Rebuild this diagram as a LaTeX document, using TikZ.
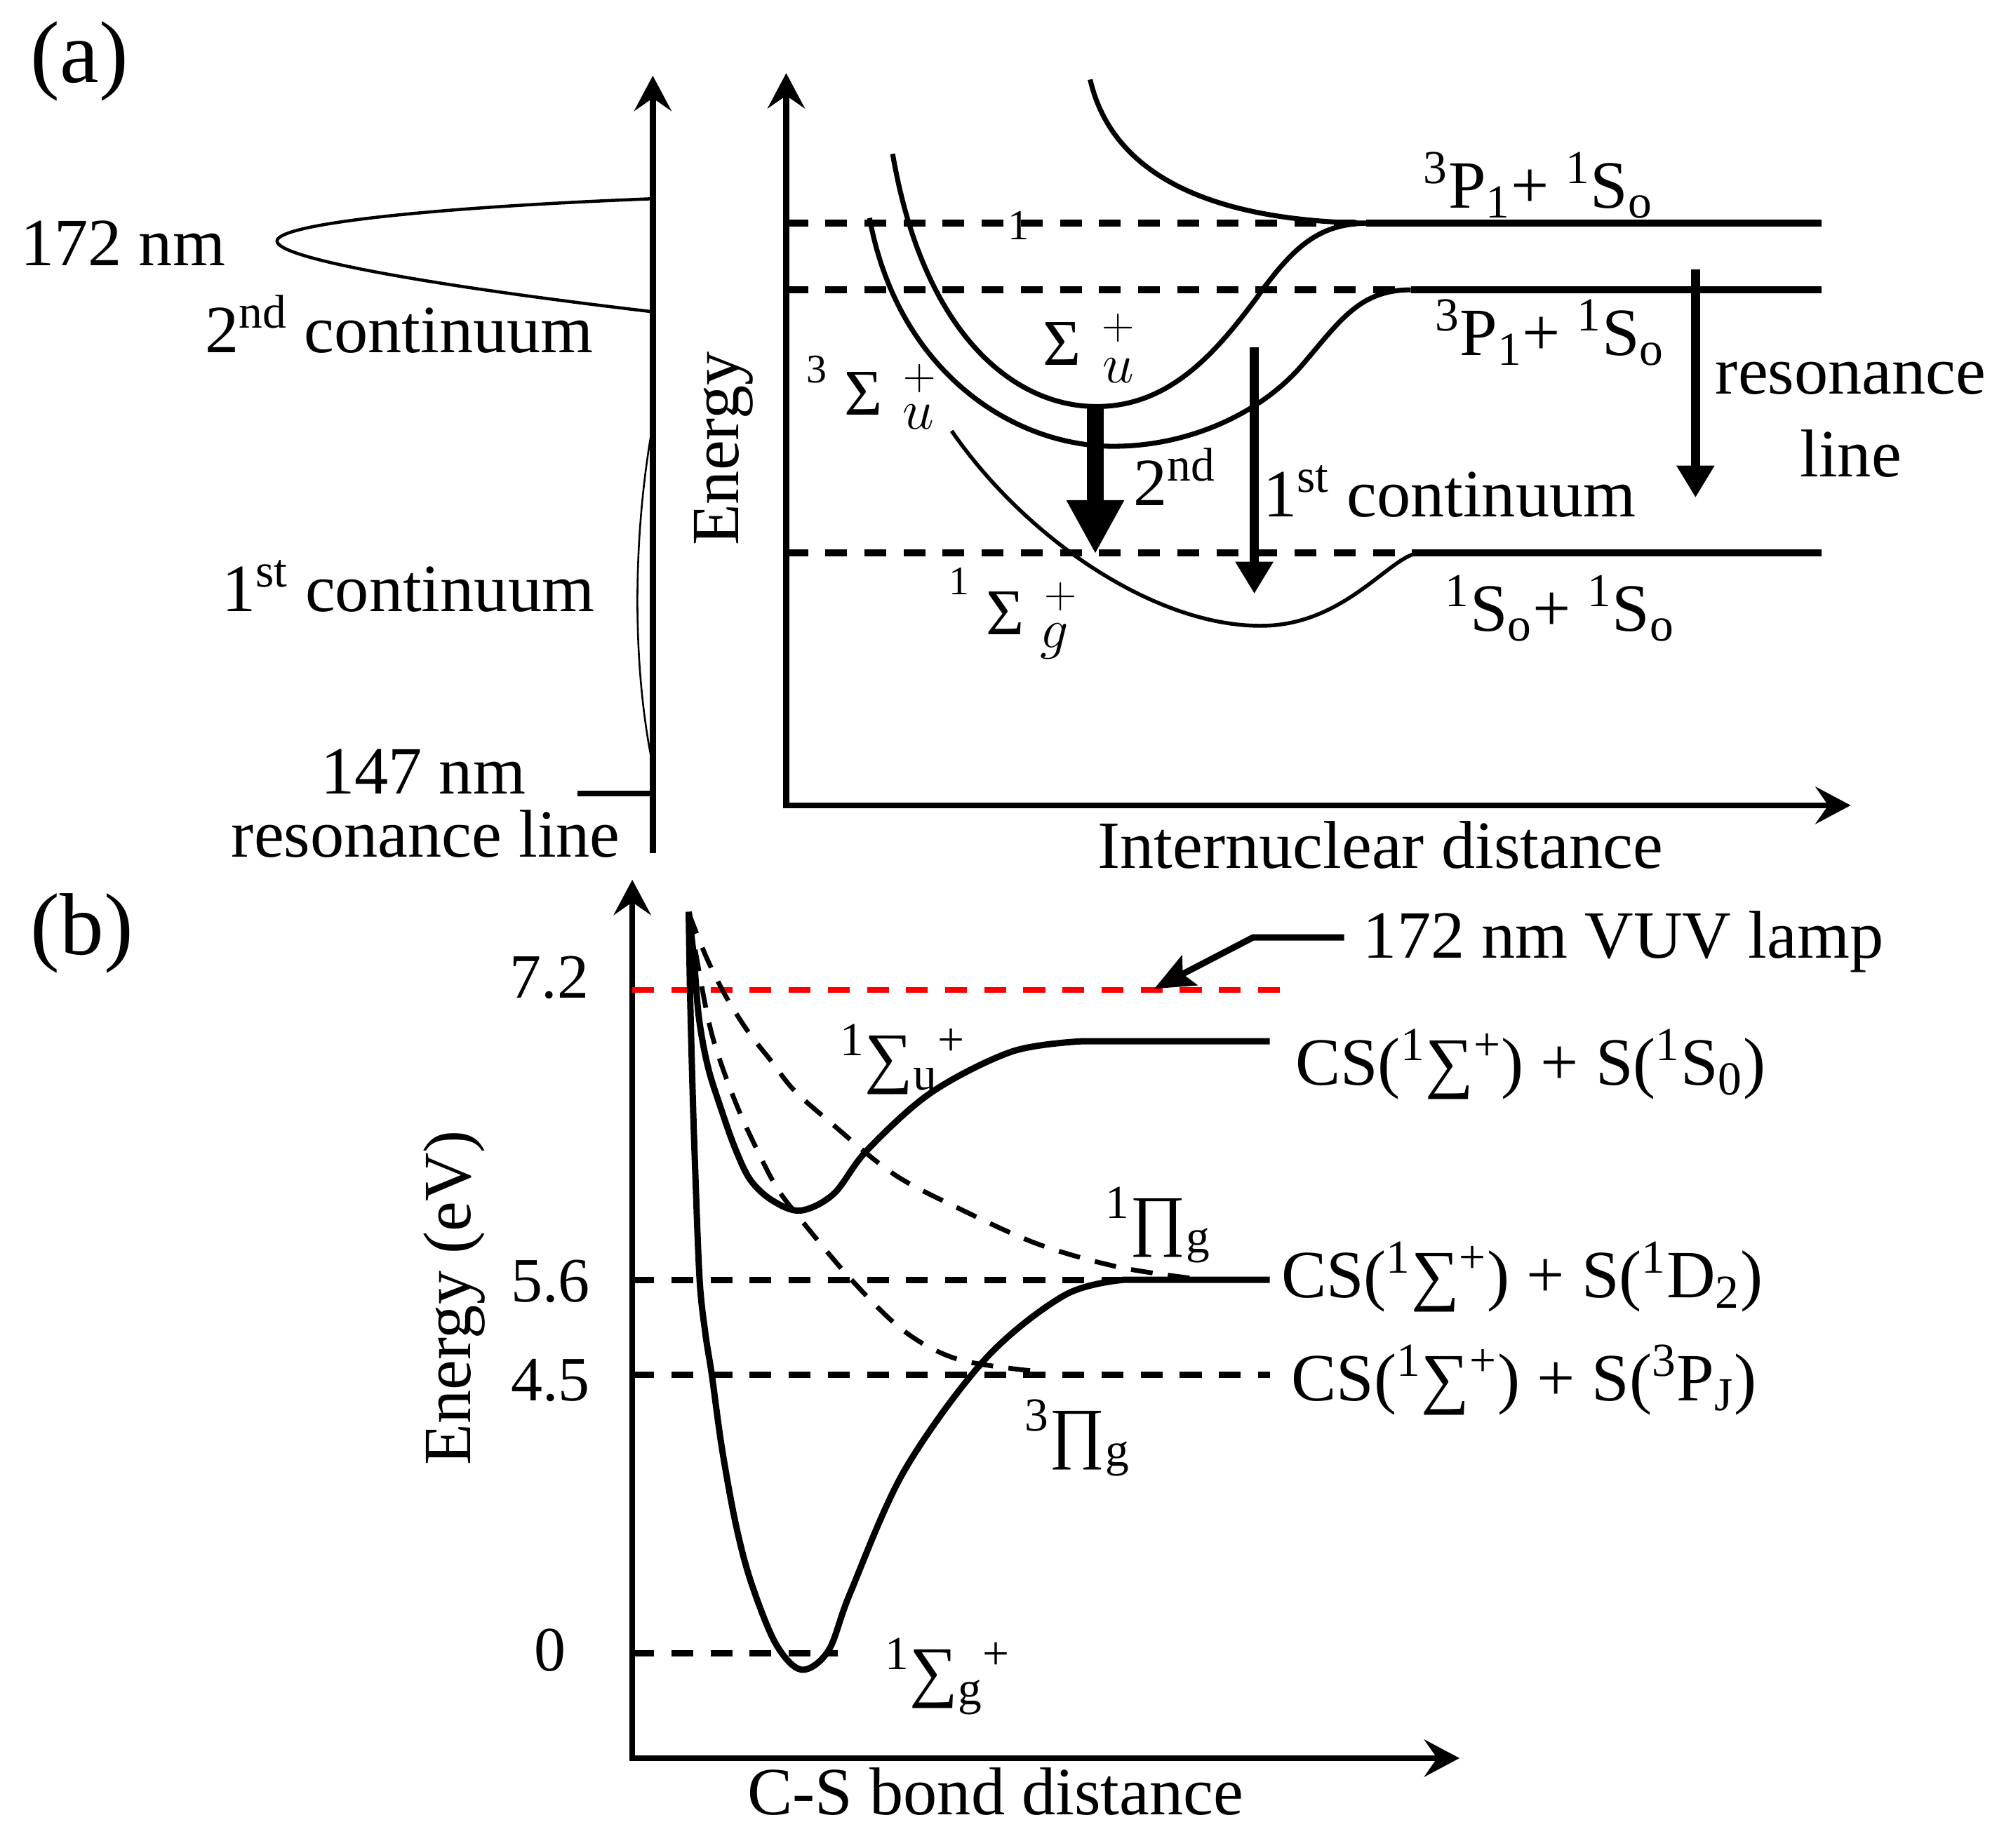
\RequirePackage{fix-cm}
\documentclass[tikz,border=0pt]{standalone}
\usepackage[no-math]{fontspec}
\setmainfont{Liberation Serif}
\usetikzlibrary{arrows.meta}
\begin{document}
\begin{tikzpicture}[x=0.02cm, y=-0.02cm,
  every node/.style={inner sep=0pt, outer sep=0pt, font=\fontsize{30}{36}\selectfont},
  lbl/.style={anchor=base west},
  bigsig/.style={font=\fontsize{29}{32}\selectfont},
  supnum/.style={font=\fontsize{18}{20}\selectfont},
  supplus/.style={font=\fontsize{20}{24}\selectfont},
  subit/.style={font=\fontsize{25}{28}\selectfont},
  tick/.style={anchor=base east, font=\fontsize{28}{32}\selectfont},
  panel/.style={font=\fontsize{39}{44}\selectfont},
  axisln/.style={line width=2.7pt},
  >={Stealth[length=0.55cm, width=0.58cm, inset=0.2cm]},
  crv/.style={line width=2.2pt},
  crvthin/.style={line width=1.7pt},
  dsha/.style={line width=3.1pt, dash pattern=on 0.34cm off 0.27cm},
  crvb/.style={line width=2.8pt},
  dshb/.style={line width=2.8pt, dash pattern=on 0.34cm off 0.27cm},
  dshcurve/.style={line width=2.1pt, dash pattern=on 0.34cm off 0.24cm},
  thinarrow/.style={line width=4.2pt, -{Triangle[length=0.5cm, width=0.56cm]}},
  thickarrow/.style={line width=7.2pt, -{Triangle[length=0.84cm, width=0.84cm]}},
]
\useasboundingbox (0,0) rectangle (1568,1441);

% ---------------- panel labels
\node[panel] (la) at (62,48) {(a)};
\node[panel] (lb) at (64,728) {(b)};

% ---------------- (a) left: spectrum
\coordinate (Lb) at (509,665);
\coordinate (Lt) at (509,59);
\draw[axisln, ->] (Lb) -- (Lt);
\draw[line width=1.4pt] (508,155) .. controls (330,162) and (216,175) .. (216,188)
      .. controls (216,201) and (330,222) .. (508,243);
\draw[line width=0.8pt] (509,331) .. controls (493,420) and (493,520) .. (509,597);
\coordinate (r147a) at (450,619);
\coordinate (r147b) at (509,619);
\draw[line width=2.5pt] (r147a) -- (r147b);

\node[lbl] (t172) at (16,207) {172 nm};
\node[lbl] (t2c) at (160,275) {2\textsuperscript{nd} continuum};
\node[lbl] (t1c) at (173,477) {1\textsuperscript{st} continuum};
\node[anchor=base] (t147) at (330,619) {147 nm};
\node[anchor=base] (tres) at (332,668) {resonance line};

% ---------------- (a) right: potential curves
\coordinate (Rt) at (613,57);
\coordinate (Ro) at (613,628);
\coordinate (Rr) at (1443,628);
\draw[axisln, <->] (Rt) -- (Ro) -- (Rr);

\draw[dsha] (613,174) -- (1065,174);
\draw[dsha] (613,226) -- (1100,226);
\draw[dsha] (613,431) -- (1108,431);
\draw[line width=3.1pt] (1065,174) -- (1420,174);
\draw[line width=3.1pt] (1100,226) -- (1420,226);
\draw[line width=3.1pt] (1108,431) -- (1420,431);

% repulsive upper curve
\draw[crv] (850,62) .. controls (868,140) and (950,172) .. (1065,174);
% Sigma_u upper (A)
\draw[crv] (696,120) .. controls (720,260) and (790,317) .. (855,317)
      .. controls (912,317) and (948,275) .. (980,232)
      .. controls (1010,190) and (1030,174) .. (1068,174);
% 3Sigma_u (B)
\draw[crv] (678,170) .. controls (700,290) and (790,348) .. (868,348)
      .. controls (930,348) and (985,320) .. (1015,285)
      .. controls (1045,250) and (1060,226) .. (1100,226);
% 1Sigma_g (C)
\draw[crvthin] (742,336) .. controls (800,420) and (900,488) .. (983,488)
      .. controls (1050,488) and (1085,431) .. (1108,431);

% transitions
\coordinate (a2s) at (854,317);
\coordinate (a2e) at (854,432);
\draw[thickarrow] (a2s) -- (a2e);
\coordinate (a1s) at (978,271);
\coordinate (a1e) at (978,463);
\draw[thinarrow] (a1s) -- (a1e);
\coordinate (ars) at (1322,210);
\coordinate (are) at (1322,388);
\draw[thinarrow] (ars) -- (are);

% labels (a) right
\node[lbl] (tPa) at (1110,162) {\textsuperscript{3}P\textsubscript{1}+ \textsuperscript{1}S\textsubscript{o}};
\node[lbl] (tPb) at (1119,277) {\textsuperscript{3}P\textsubscript{1}+ \textsuperscript{1}S\textsubscript{o}};
\node[lbl] (tSS) at (1127,492) {\textsuperscript{1}S\textsubscript{o}+ \textsuperscript{1}S\textsubscript{o}};
\node[anchor=base] (tRes1) at (1443,307) {resonance};
\node[anchor=base] (tRes2) at (1443,372) {line};
\node[lbl] (t2nd) at (884,394) {2\textsuperscript{nd}};
\node[lbl] (t1st) at (985,403) {1\textsuperscript{st} continuum};
\node[rotate=90] (tEn) at (564,350) {Energy};
\node[lbl] (tIn) at (856,677) {Internuclear distance};

% Sigma_u^+ (upper curve)
\node[bigsig] (uS) at (828,268) {Σ};
\node[supplus] (uP) at (872,256) {$+$};
\node[subit] (uU) at (872,289) {$u$};
% 3Sigma_u^+
\node[supnum] (tN) at (637,288) {3};
\node[bigsig] (tS) at (673,307) {Σ};
\node[supplus] (tP) at (717,295) {$+$};
\node[subit] (tU) at (716,325) {$u$};
% 1Sigma_g^+
\node[supnum] (gN) at (748,453) {1};
\node[bigsig] (gS) at (784,478) {Σ};
\node[supplus] (gP) at (827,465) {$+$};
\node[subit] (gG) at (822,500) {$g$};
% stray digit on the dashed line
\node[font=\fontsize{19}{20}\selectfont] (stray) at (794,176) {1};

% ---------------- (b)
\coordinate (Bt) at (493,686);
\coordinate (Bo) at (493,1371);
\coordinate (Br) at (1138,1371);
\draw[axisln, <->] (Bt) -- (Bo) -- (Br);

\draw[red, line width=2.7pt, dash pattern=on 0.34cm off 0.27cm] (493,772) -- (1008,772);
\draw[dshb] (493,998) -- (877,998);
\draw[dshb] (493,1072) -- (990,1072);
\draw[dshb] (493,1289) -- (653,1289);

% ground state 1Sigma_g+
\draw[crvb] plot[smooth, tension=0.55] coordinates {(537,711) (538,772) (540,850) (542,911)
   (545.5,998) (550,1040) (555,1072) (563,1130) (574,1190) (586,1235) (605,1282)
   (625,1302) (646,1287) (663,1242) (705,1147) (768,1060) (830,1010) (876,998)} -- (990,998);
% 1Sigma_u+
\draw[crvb] plot[smooth, tension=0.55] coordinates {(537,711) (541,747) (545,794) (552,832)
   (562,864) (573,895) (585,920) (602,936) (624,944) (650,931) (676,897) (726,852)
   (789,820) (843,812)} -- (990,812);
% 1Pi_g
\draw[dshcurve] plot[smooth, tension=0.55] coordinates {(537,712) (551,747) (566,777) (583,804)
   (601,827) (619,850) (646,874) (696,915) (747,942) (809,970) (872,988) (931,997)};
% 3Pi_g
\draw[dshcurve] plot[smooth, tension=0.55] coordinates {(537,712) (549,779) (556,810) (566,840)
   (577,868) (590,896) (605,925) (622,948) (663,997) (705,1038) (747,1060) (805,1069)};

% VUV arrow
\node[lbl] (tVUV) at (1063,747) {172 nm VUV lamp};
\coordinate (v1) at (1048,731);
\coordinate (v2) at (977,731);
\coordinate (v3) at (900,771);
\draw[line width=2.8pt, -{Stealth[length=0.62cm, width=0.52cm, inset=0.12cm]}] (v1) -- (v2) -- (v3);

% ticks
\node[tick] (y72) at (459,778) {7.2};
\node[tick] (y56) at (460,1015) {5.6};
\node[tick] (y45) at (460,1092) {4.5};
\node[tick] (y0) at (441,1303) {0};
\node[rotate=90] (tEeV) at (354,1012) {Energy (eV)};
\node[lbl] (tCS) at (583,1415) {C-S bond distance};

% state labels (b)
\node[lbl] (bSu) at (655,842) {\textsuperscript{1}∑\textsubscript{u}\textsuperscript{+}};
\node[lbl] (bP1) at (862,969) {\textsuperscript{1}∏\textsubscript{g}};
\node[lbl] (bP3) at (799,1135) {\textsuperscript{3}∏\textsubscript{g}};
\node[lbl] (bSg) at (690,1321) {\textsuperscript{1}∑\textsubscript{g}\textsuperscript{+}};
\node[lbl] (cs1) at (1010,846) {CS(\textsuperscript{1}∑\textsuperscript{+}) + S(\textsuperscript{1}S\textsubscript{0})};
\node[lbl] (cs2) at (999,1012) {CS(\textsuperscript{1}∑\textsuperscript{+}) + S(\textsuperscript{1}D\textsubscript{2})};
\node[lbl] (cs3) at (1007,1092) {CS(\textsuperscript{1}∑\textsuperscript{+}) + S(\textsuperscript{3}P\textsubscript{J})};
\end{tikzpicture}
\end{document}
